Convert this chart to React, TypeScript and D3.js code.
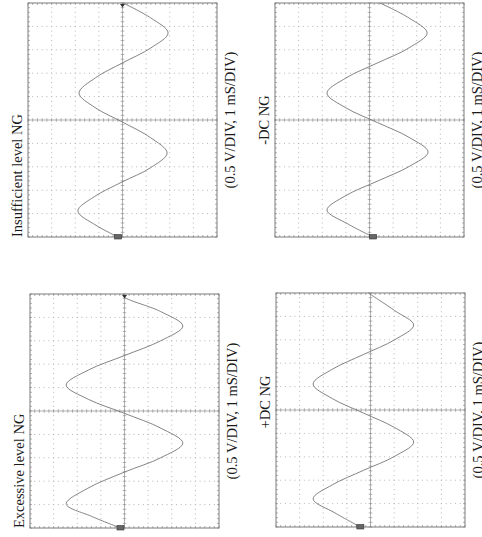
import * as d3 from "d3";

// four scope captures, drawn rotated a quarter turn like the printed page
const TITLES = ["Insufficient level NG", "-DC NG", "Excessive level NG", "+DC NG"];
const CAPTION = "(0.5 V/DIV, 1 mS/DIV)";

// time in divisions (1 mS/DIV), volts in divisions (0.5 V/DIV)
const insufficientTime = [0, 0.5, 1.11, 1.72, 2.35, 2.95, 3.59, 4.25, 4.91, 5.53, 6.15, 6.8, 7.44, 8.08, 8.72, 9.36, 10];
const insufficientVolts = [0.19, 1.12, 1.89, 1.2, 0.02, -1.17, -1.89, -1.18, 0, 1.16, 1.84, 1.15, 0, -1.2, -1.93, -1.2, -0.02];

const minusDcTime = [0, 0.55, 1.15, 1.77, 2.39, 3.01, 3.63, 4.26, 4.89, 5.52, 6.15, 6.8, 7.44, 8.08, 8.72, 9.36, 10];
const minusDcVolts = [-0.15, 0.9, 1.8, 1.0, -0.34, -1.67, -2.48, -1.67, -0.34, 1.0, 1.8, 0.99, -0.34, -1.67, -2.44, -1.67, -0.44];

const excessiveTime = [0, 0.5, 1.03, 1.7, 2.39, 3.0, 3.63, 4.27, 4.9, 5.5, 6.11, 6.75, 7.37, 8.0, 8.63, 9.25, 9.87, 10];
const excessiveVolts = [0.17, 1.4, 2.47, 1.55, 0, -1.53, -2.47, -1.53, 0, 1.53, 2.47, 1.53, 0, -1.53, -2.47, -1.53, 0, 0.05];

const plusDcTime = [0, 0.6, 1.2, 1.8, 2.42, 3.02, 3.63, 4.25, 4.87, 5.49, 6.11, 6.74, 7.37, 8.0, 8.63, 9.25, 10];
const plusDcVolts = [0.43, 1.5, 2.43, 1.62, 0.3, -1.02, -1.83, -1.02, 0.3, 1.62, 2.43, 1.62, 0.3, -1.02, -1.83, -1.02, 0.09];

const TRACES = [
  [insufficientTime, insufficientVolts],
  [minusDcTime, minusDcVolts],
  [excessiveTime, excessiveVolts],
  [plusDcTime, plusDcVolts],
];

// panel boxes on the page
const W = 189;
const H = 234;
const BOXES = [
  { x: 28, y: 3, titleAt: "start", titleShift: 0, trig: true },
  { x: 275, y: 3, titleAt: "middle", titleShift: 0, trig: false },
  { x: 30, y: 294, titleAt: "start", titleShift: 0, trig: true },
  { x: 276, y: 293, titleAt: "middle", titleShift: -8, trig: false },
];

const FONT = "'Liberation Serif', 'Times New Roman', serif";

function Panel({ i }: { i: number }) {
  const b = BOXES[i];
  const [time, volts] = TRACES[i];
  const t = d3.scaleLinear().domain([0, 10]).range([b.y + H, b.y]);
  const v = d3.scaleLinear().domain([-4, 4]).range([b.x + W, b.x]);

  const minorT = d3.range(0, 51).map((k) => k / 5);
  const minorV = d3.range(0, 41).map((k) => -4 + k / 5);
  const majorT = d3.range(1, 10).filter((d) => d !== 5);
  const majorV = d3.range(-3, 4).filter((d) => d !== 0);

  const line = d3
    .line<number>()
    .x((_, k) => v(volts[k]))
    .y((d) => t(d))
    .curve(d3.curveCatmullRom.alpha(0.5));

  const cx = v(0);
  const cy = t(5);
  const titleY = b.titleAt === "start" ? b.y + H : cy + b.titleShift;

  return (
    <g>
      {/* dotted graticule */}
      <g fill="#b4b4b4">
        {majorV.map((mv) =>
          minorT.map((tt) => (
            <rect key={`v${mv}-${tt}`} x={v(mv) - 0.5} y={t(tt) - 0.5} width={1} height={1} />
          )),
        )}
        {majorT.map((mt) =>
          minorV.map((vv) => (
            <rect key={`t${mt}-${vv}`} x={v(vv) - 0.5} y={t(mt) - 0.5} width={1} height={1} />
          )),
        )}
      </g>

      {/* centre axes with minor ticks */}
      <g stroke="#909090" strokeWidth={0.7}>
        <line x1={cx} x2={cx} y1={b.y} y2={b.y + H} />
        <line x1={b.x} x2={b.x + W} y1={cy} y2={cy} />
        {minorT.map((tt) => (
          <line key={`ct${tt}`} x1={cx - 1.8} x2={cx + 1.8} y1={t(tt)} y2={t(tt)} />
        ))}
        {minorV.map((vv) => (
          <line key={`cv${vv}`} x1={v(vv)} x2={v(vv)} y1={cy - 1.8} y2={cy + 1.8} />
        ))}
        {/* border ticks */}
        {minorT.map((tt) => (
          <g key={`bt${tt}`}>
            <line x1={b.x} x2={b.x + 2} y1={t(tt)} y2={t(tt)} />
            <line x1={b.x + W - 2} x2={b.x + W} y1={t(tt)} y2={t(tt)} />
          </g>
        ))}
        {minorV.map((vv) => (
          <g key={`bv${vv}`}>
            <line x1={v(vv)} x2={v(vv)} y1={b.y} y2={b.y + 2} />
            <line x1={v(vv)} x2={v(vv)} y1={b.y + H - 2} y2={b.y + H} />
          </g>
        ))}
      </g>

      <rect x={b.x} y={b.y} width={W} height={H} fill="none" stroke="#7a7a7a" strokeWidth={1} />

      {/* trace */}
      <path d={line(time) ?? ""} fill="none" stroke="#6e6e6e" strokeWidth={0.85} />

      {/* channel marker at the start of the sweep */}
      <rect
        x={v(volts[0]) - 3.5}
        y={t(0) - 2.5}
        width={7}
        height={4.5}
        fill="#666"
        stroke="#333"
        strokeWidth={0.6}
      />
      {b.trig && (
        <path
          d={`M${cx - 2.5},${b.y + 1} L${cx + 2.5},${b.y + 1} L${cx},${b.y + 4.5} Z`}
          fill="#333"
        />
      )}

      <text
        transform={`translate(${b.x - 6},${titleY}) rotate(-90)`}
        textAnchor={b.titleAt}
        fontFamily={FONT}
        fontSize={14.5}
        fill="#1a1a1a"
      >
        {TITLES[i]}
      </text>
      <text
        transform={`translate(${b.x + W + 17.5},${cy}) rotate(-90)`}
        textAnchor="middle"
        fontFamily={FONT}
        fontSize={14.5}
        fill="#1a1a1a"
      >
        {CAPTION}
      </text>
    </g>
  );
}

export default function App() {
  return (
    <svg
      width={482}
      height={537}
      style={{ position: "absolute", left: 0, top: 0, background: "#fff" }}
    >
      {BOXES.map((_, i) => (
        <Panel key={i} i={i} />
      ))}
    </svg>
  );
}
